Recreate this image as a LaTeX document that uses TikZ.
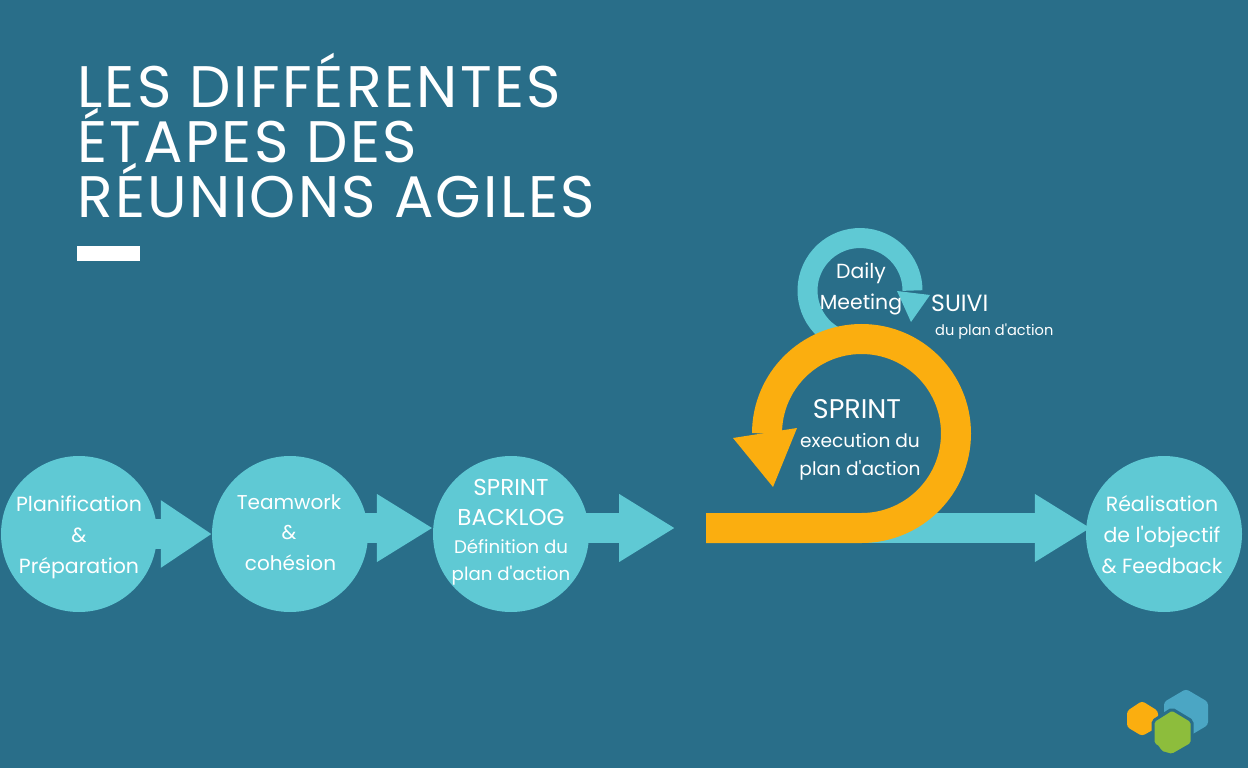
\documentclass[tikz,border=0pt]{standalone}
\usepackage{fontspec}
\newfontfamily\corps{Poppins}
\newfontfamily\titlefont[LetterSpace=4]{Poppins}
\usetikzlibrary{arrows.meta,shapes,positioning}
\definecolor{fondbleu}{HTML}{296E89}
\definecolor{turquoise}{HTML}{5FC9D4}
\definecolor{orangeloop}{HTML}{FBAE0F}
\definecolor{logobleu}{HTML}{4BA6C4}
\definecolor{logovert}{HTML}{8DBD3C}
\newcommand{\fs}[1]{\fontsize{#1}{#1}\corps}
\tikzset{
  etape/.style={circle,fill=turquoise,minimum size=156pt,inner sep=0pt},
  fleche/.style={draw=turquoise,line width=30pt,-{Triangle[length=56pt,width=64pt]}},
  texte/.style={text=white,inner sep=0pt,align=center},
}
\begin{document}
\begin{tikzpicture}[x=1pt,y=-1pt]
\useasboundingbox (0,0) rectangle (1248,768);
\fill[fondbleu] (0,0) rectangle (1248,768);

% titre
\node[texte,anchor=north west,align=left,font=\titlefont\fontsize{58.6}{55}\selectfont] (titre) at (77,52.5)
  {LES DIFFÉRENTES\\ÉTAPES DES\\RÉUNIONS AGILES};
\fill[white] (77,246) rectangle (140,261);

% etapes
\node[etape] (planif) at (79,534) {};
\node[etape] (teamwork) at (290,534) {};
\node[etape] (backlog) at (511,534) {};
\node[etape] (realisation) at (1164,534) {};

\coordinate (bout) at (675,528);
\coordinate (depart) at (860,528);

\draw[fleche,-{Triangle[length=51pt,width=64pt]}] ([xshift=-5pt]planif.east) -- (teamwork.west);
\draw[fleche] ([xshift=-5pt,yshift=6pt]teamwork.east) -- ([yshift=6pt]backlog.west);
\draw[fleche] ([xshift=-5pt,yshift=6pt]backlog.east) -- (bout);
\draw[fleche] (depart) -- ([xshift=5pt,yshift=6pt]realisation.west);

\node[texte,font=\fs{20.5}] (planiftxt) at (79,537) {Planification\\[10.5pt]\&\\[10.5pt]Préparation};
\node[texte,font=\fs{20}] (teamtxt) at (289,532.5) {Teamwork\\[10.5pt]\&\\[10.5pt]\hspace*{3pt}cohésion};
\node[texte,font=\fs{23}] (backlogtxt) at (511,502.5) {SPRINT\\[7pt]BACKLOG};
\node[texte,font=\fs{18.2}] (definition) at (511,562) {Définition du\\[8.5pt]plan d'action};
\node[texte,font=\fs{20.5}] (realtxt) at (1162,535) {Réalisation\\[10.5pt]de l'objectif\\[10.5pt]\& Feedback};

% daily meeting
\draw[turquoise,line width=20pt] (833.75,336) arc[start angle=240,delta angle=-240,radius=52.5pt];
\fill[turquoise] (897,291) -- (930,295) -- (911,322) -- cycle;

% sprint
\draw[orangeloop,line width=30pt] (706,528) -- (861.5,528) arc[start angle=270,delta angle=270,radius=94.5pt];
\fill[orangeloop] (733,438) -- (797,428) -- (773,487) -- cycle;

\node[texte,font=\fs{20.4}] (daily) at (861,289) {Daily\\[9pt]Meeting};
\node[texte,anchor=west,font=\fs{23.5}] (suivi) at (931,303) {SUIVI};
\node[texte,anchor=west,font=\fs{14.6}] (duplan) at (935,331.5) {du plan d'action};
\node[texte,font=\fs{27}] (sprint) at (857,409) {SPRINT};
\node[texte,font=\fs{18.6}] (execution) at (860,457) {execution du\\[9pt]plan d'action};

% logo
\fill[logobleu,rounded corners=3pt] (1186,689) -- (1208,702) -- (1208,725) -- (1186,738) -- (1164,725) -- (1164,702) -- cycle;
\fill[orangeloop,rounded corners=3pt] (1142,701) -- (1158,711) -- (1158,727) -- (1142,736) -- (1127,727) -- (1127,711) -- cycle;
\filldraw[fill=logovert,draw=fondbleu,line width=3pt,rounded corners=2pt] (1172,709) -- (1192,721) -- (1192,744) -- (1172,755.5) -- (1160,752) -- (1159,748) -- (1153,744) -- (1153,721) -- cycle;
\end{tikzpicture}
\end{document}
